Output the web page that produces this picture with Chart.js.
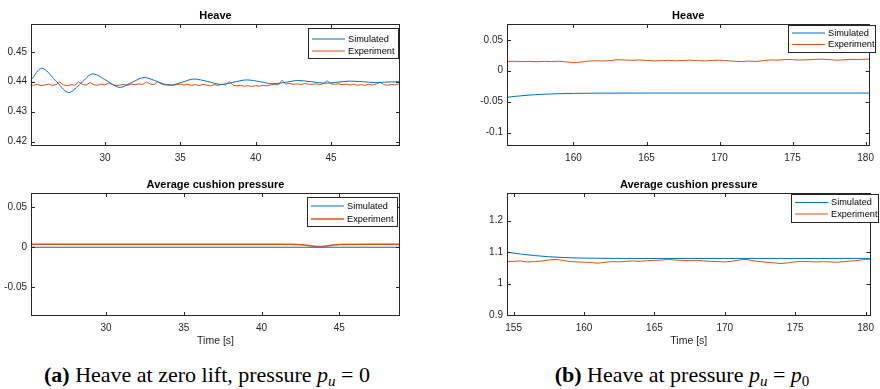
<!DOCTYPE html>
<html>
<head>
<meta charset="utf-8">
<script src="https://cdn.jsdelivr.net/npm/chart.js@4.4.1/dist/chart.umd.min.js"></script>
<style>
  body { margin: 0; background: #fff; }
  #wrap { position: relative; width: 880px; height: 389px; overflow: hidden; }
  canvas { position: absolute; }
  .cap {
    position: absolute; top: 364px; width: 400px; text-align: center;
    font-family: "Liberation Serif", "Times New Roman", serif; font-size: 22px;
    line-height: 22px; color: #000; white-space: nowrap;
  }
  .cap sub { font-size: 15px; vertical-align: -4px; line-height: 0; }
</style>
</head>
<body>
<div id="wrap">
  <canvas id="heaveA" width="440" height="170" style="left:0;top:0"></canvas>
  <canvas id="heaveB" width="440" height="170" style="left:440px;top:0"></canvas>
  <canvas id="pressA" width="440" height="190" style="left:0;top:170px"></canvas>
  <canvas id="pressB" width="440" height="190" style="left:440px;top:170px"></canvas>
  <div class="cap" style="left:7px"><b>(a)</b> Heave at zero lift, pressure <i>p</i><sub><i>u</i></sub> = 0</div>
  <div class="cap" style="left:482px"><b>(b)</b> Heave at pressure <i>p</i><sub><i>u</i></sub> = <i>p</i><sub>0</sub></div>
</div>
<script>
// (a) heave, zero lift
const simTimeA = [25.1, 25.8, 26.7, 27.6, 28.4, 29.2, 30.1, 31.0, 31.8, 32.6, 33.5, 34.3, 35.1, 35.9, 36.8,
  37.7, 38.5, 39.4, 40.3, 41.1, 42.0, 42.8, 43.7, 44.6, 45.4, 46.2, 47.1, 48.0, 48.8, 49.6];
const simHeaveA = [0.4406, 0.4445, 0.4405, 0.4364, 0.4395, 0.4426, 0.4404, 0.4381, 0.4398, 0.4414, 0.4400, 0.4388,
  0.4398, 0.4409, 0.4401, 0.4391, 0.4398, 0.4406, 0.4400, 0.4393, 0.4398, 0.4404, 0.4400, 0.4395, 0.4398,
  0.4402, 0.4400, 0.4397, 0.4399, 0.4400];

const expTimeA = [25.00, 25.25, 25.50, 25.75, 26.00, 26.25, 26.50, 26.75, 27.00, 27.25, 27.50, 27.75,
  28.00, 28.25, 28.50, 28.75, 29.00, 29.25, 29.50, 29.75, 30.00, 30.25, 30.50, 30.75, 31.00, 31.25, 31.50, 31.75,
  32.00, 32.25, 32.50, 32.75, 33.00, 33.25, 33.50, 33.75, 34.00, 34.25, 34.50, 34.75, 35.00, 35.25, 35.50, 35.75,
  36.00, 36.25, 36.50, 36.75, 37.00, 37.25, 37.50, 37.75, 38.00, 38.25, 38.50, 38.75, 39.00, 39.25, 39.50, 39.75,
  40.00, 40.25, 40.50, 40.75, 41.00, 41.25, 41.50, 41.75, 42.00, 42.25, 42.50, 42.75, 43.00, 43.25, 43.50, 43.75,
  44.00, 44.25, 44.50, 44.75, 45.00, 45.25, 45.50, 45.75, 46.00, 46.25, 46.50, 46.75, 47.00, 47.25, 47.50, 47.75,
  48.00, 48.25, 48.50, 48.75, 49.00, 49.25, 49.50, 49.75];
const expHeaveA = [0.4390, 0.4388, 0.4391, 0.4387, 0.4389, 0.4392, 0.4388, 0.4390, 0.4399, 0.4389, 0.4387, 0.4390,
  0.4388, 0.4400, 0.4391, 0.4389, 0.4397, 0.4390, 0.4388, 0.4392, 0.4389, 0.4396, 0.4390, 0.4387, 0.4389, 0.4391,
  0.4388, 0.4392, 0.4390, 0.4393, 0.4391, 0.4399, 0.4392, 0.4390, 0.4400, 0.4392, 0.4389, 0.4391, 0.4388, 0.4390,
  0.4392, 0.4389, 0.4391, 0.4388, 0.4390, 0.4387, 0.4391, 0.4389, 0.4386, 0.4390, 0.4388, 0.4391, 0.4389, 0.4401,
  0.4388, 0.4386, 0.4388, 0.4385, 0.4387, 0.4384, 0.4387, 0.4385, 0.4388, 0.4386, 0.4389, 0.4391, 0.4389, 0.4405,
  0.4392, 0.4394, 0.4391, 0.4393, 0.4390, 0.4394, 0.4392, 0.4391, 0.4393, 0.4390, 0.4394, 0.4403, 0.4393, 0.4391,
  0.4393, 0.4390, 0.4392, 0.4389, 0.4391, 0.4388, 0.4390, 0.4388, 0.4391, 0.4389, 0.4392, 0.4399, 0.4390, 0.4388,
  0.4391, 0.4389, 0.4392, 0.4390];

const pressSimTimeA = [25.0, 49.0];
const pressSimA = [0, 0];
const pressExpTimeA = [25.0, 30.0, 35.0, 40.0, 42.3, 43.0, 43.7, 44.4, 45.0, 49.0];
const pressExpA = [0.0036, 0.0037, 0.0037, 0.0036, 0.0035, 0.0022, 0.0010, 0.0022, 0.0035, 0.0036];

// (b) heave, p_u = p_0
const simTimeB = [155.4, 156, 157, 158, 159, 160, 162, 165, 180.5];
const simHeaveB = [-0.0432, -0.0415, -0.0394, -0.0380, -0.0372, -0.0367, -0.0363, -0.0362, -0.0362];

const expTimeB = [155.5, 156.0, 156.5, 157.0, 157.5, 158.0, 158.5, 159.0, 159.5, 160.0, 160.5, 161.0, 161.5,
  162.0, 162.5, 163.0, 163.5, 164.0, 164.5, 165.0, 165.5, 166.0, 166.5, 167.0, 167.5, 168.0, 168.5, 169.0, 169.5,
  170.0, 170.5, 171.0, 171.5, 172.0, 172.5, 173.0, 173.5, 174.0, 174.5, 175.0, 175.5, 176.0, 176.5, 177.0, 177.5,
  178.0, 178.5, 179.0, 179.5, 180.0, 180.5];
const expHeaveB = [0.0148, 0.0152, 0.0147, 0.0150, 0.0145, 0.0151, 0.0148, 0.0152, 0.0143, 0.0130, 0.0138, 0.0155,
  0.0160, 0.0157, 0.0163, 0.0178, 0.0172, 0.0168, 0.0173, 0.0165, 0.0158, 0.0162, 0.0167, 0.0160, 0.0165, 0.0170,
  0.0163, 0.0158, 0.0166, 0.0170, 0.0161, 0.0152, 0.0148, 0.0155, 0.0150, 0.0162, 0.0175, 0.0170, 0.0182, 0.0178,
  0.0172, 0.0176, 0.0181, 0.0187, 0.0178, 0.0170, 0.0176, 0.0182, 0.0179, 0.0186, 0.0183];

const pressSimTimeB = [154.5, 155.5, 156.5, 157.5, 158.5, 159.5, 161, 163, 170, 180.5];
const pressSimB = [1.100, 1.094, 1.089, 1.0855, 1.083, 1.0815, 1.0805, 1.080, 1.080, 1.080];
const pressExpTimeB = [154.5, 155.0, 155.5, 156.0, 156.5, 157.0, 157.5, 158.0, 158.5, 159.0, 159.5, 160.0,
  160.5, 161.0, 161.5, 162.0, 162.5, 163.0, 163.5, 164.0, 164.5, 165.0, 165.5, 166.0, 166.5, 167.0, 167.5, 168.0,
  168.5, 169.0, 169.5, 170.0, 170.5, 171.0, 171.5, 172.0, 172.5, 173.0, 173.5, 174.0, 174.5, 175.0, 175.5, 176.0,
  176.5, 177.0, 177.5, 178.0, 178.5, 179.0, 179.5, 180.0, 180.5];
const pressExpB = [1.070, 1.071, 1.072, 1.069, 1.070, 1.072, 1.075, 1.077, 1.074, 1.070, 1.069, 1.068, 1.067,
  1.065, 1.068, 1.070, 1.069, 1.071, 1.072, 1.071, 1.073, 1.074, 1.075, 1.077, 1.075, 1.074, 1.073, 1.074, 1.072,
  1.071, 1.070, 1.069, 1.071, 1.075, 1.077, 1.073, 1.070, 1.068, 1.066, 1.064, 1.066, 1.069, 1.071, 1.070, 1.069,
  1.070, 1.069, 1.068, 1.070, 1.072, 1.074, 1.077, 1.078];

// tick values
const timeTicksA = [30, 35, 40, 45];
const timeTicksHeaveB = [160, 165, 170, 175, 180];
const timeTicksPressB = [155, 160, 165, 170, 175, 180];
const heaveTicksA = [0.42, 0.43, 0.44, 0.45];
const pressTicksA = [-0.05, 0, 0.05];
const heaveTicksB = [-0.1, -0.05, 0, 0.05];
const pressTicksB = [0.9, 1, 1.1, 1.2];

const seriesNames = ['Simulated', 'Experiment'];
const BLUE = '#0072BD';
const ORANGE = '#D95319';
const AXIS = '#262626';
const FONT = '"Liberation Sans", Arial, Helvetica, sans-serif';

Chart.defaults.font.family = FONT;
Chart.defaults.color = AXIS;

function toPoints(xs, ys) {
  return xs.map((x, i) => ({ x, y: ys[i] }));
}

// box, inward ticks, title, xlabel and boxed legend like the matlab figure
const matlabAxes = {
  id: 'matlabAxes',
  afterDatasetsDraw(chart, args, opts) {
    const { ctx, chartArea: a, scales } = chart;
    const x = scales.x;
    const y = scales.y;
    ctx.save();
    ctx.strokeStyle = AXIS;
    ctx.lineWidth = 1;
    ctx.beginPath();
    x.ticks.forEach((t) => {
      const px = Math.round(x.getPixelForValue(t.value)) + 0.5;
      ctx.moveTo(px, a.bottom); ctx.lineTo(px, a.bottom - 4);
      ctx.moveTo(px, a.top); ctx.lineTo(px, a.top + 4);
    });
    y.ticks.forEach((t) => {
      const py = Math.round(y.getPixelForValue(t.value)) + 0.5;
      ctx.moveTo(a.left, py); ctx.lineTo(a.left + 4, py);
      ctx.moveTo(a.right, py); ctx.lineTo(a.right - 4, py);
    });
    ctx.stroke();
    ctx.strokeRect(Math.round(a.left) + 0.5, Math.round(a.top) + 0.5,
      Math.round(a.right - a.left) - 1, Math.round(a.bottom - a.top) - 1);

    ctx.fillStyle = '#000';
    ctx.font = 'bold 11px ' + FONT;
    ctx.textAlign = 'center';
    ctx.textBaseline = 'middle';
    ctx.fillText(opts.title, (a.left + a.right) / 2, a.top - 8);

    if (opts.xLabel) {
      ctx.fillStyle = AXIS;
      ctx.font = '10.5px ' + FONT;
      ctx.fillText(opts.xLabel, (a.left + a.right) / 2, a.bottom + 25);
    }

    const lg = opts.legend;
    ctx.fillStyle = '#fff';
    ctx.fillRect(lg.x, lg.y, lg.w, lg.h);
    ctx.strokeStyle = AXIS;
    ctx.strokeRect(lg.x + 0.5, lg.y + 0.5, lg.w, lg.h);
    ctx.font = '9.2px ' + FONT;
    ctx.textAlign = 'left';
    const rows = [lg.r1, lg.r2];
    chart.data.datasets.forEach((ds, i) => {
      const ry = lg.y + rows[i];
      ctx.strokeStyle = ds.borderColor;
      ctx.lineWidth = ds.borderWidth;
      ctx.beginPath();
      ctx.moveTo(lg.x + 4, ry);
      ctx.lineTo(lg.x + 37, ry);
      ctx.stroke();
      ctx.fillStyle = '#000';
      ctx.fillText(ds.label, lg.x + 40, ry);
    });
    ctx.restore();
  },
};

function renderPanel(id, p) {
  const ctx = document.getElementById(id).getContext('2d');
  return new Chart(ctx, {
    type: 'line',
    data: {
      datasets: [
        {
          label: seriesNames[0],
          data: toPoints(p.simT, p.simY),
          borderColor: BLUE,
          borderWidth: 1,
          pointRadius: 0,
          cubicInterpolationMode: 'monotone',
        },
        {
          label: seriesNames[1],
          data: toPoints(p.expT, p.expY),
          borderColor: ORANGE,
          borderWidth: p.expWidth || 1,
          pointRadius: 0,
          tension: p.expSmooth ? 0.4 : 0,
        },
      ],
    },
    options: {
      responsive: false,
      animation: false,
      events: [],
      layout: { padding: { left: 0, top: p.top, right: p.right, bottom: 0 } },
      plugins: {
        legend: { display: false },
        title: { display: false },
        tooltip: { enabled: false },
        matlabAxes: { title: p.title, xLabel: p.xLabel, legend: p.legend },
      },
      scales: {
        x: {
          type: 'linear',
          min: p.xMin,
          max: p.xMax,
          grid: { display: false, drawTicks: false },
          border: { display: false },
          afterBuildTicks: (s) => { s.ticks = p.xTicks.map((v) => ({ value: v })); },
          afterFit: (s) => { s.height = p.xHeight; },
          ticks: { padding: 6, font: { size: 10 }, color: AXIS, maxRotation: 0, callback: (v) => String(v) },
        },
        y: {
          type: 'linear',
          min: p.yMin,
          max: p.yMax,
          grid: { display: false, drawTicks: false },
          border: { display: false },
          afterBuildTicks: (s) => { s.ticks = p.yTicks.map((v) => ({ value: v })); },
          afterFit: (s) => { s.width = p.yWidth; },
          ticks: { padding: 4, font: { size: 10 }, color: AXIS, callback: (v) => String(v) },
        },
      },
    },
    plugins: [matlabAxes],
  });
}

renderPanel('heaveA', {
  simT: simTimeA, simY: simHeaveA, expT: expTimeA, expY: expHeaveA,
  xMin: 25.09, xMax: 49.58, yMin: 0.4185, yMax: 0.4593,
  xTicks: timeTicksA, yTicks: heaveTicksA,
  top: 24, right: 40, yWidth: 31, xHeight: 24,
  title: 'Heave',
  legend: { x: 308, y: 28, w: 90, h: 30, r1: 11, r2: 23 },
});

renderPanel('heaveB', {
  simT: simTimeB, simY: simHeaveB, expT: expTimeB, expY: expHeaveB,
  xMin: 155.45, xMax: 180.27, yMin: -0.1218, yMax: 0.0755,
  xTicks: timeTicksHeaveB, yTicks: heaveTicksB,
  top: 24, right: 3, yWidth: 67, xHeight: 24,
  title: 'Heave',
  legend: { x: 348, y: 25, w: 87, h: 27, r1: 8, r2: 19.5 },
});

renderPanel('pressA', {
  simT: pressSimTimeA, simY: pressSimA, expT: pressExpTimeA, expY: pressExpA,
  expWidth: 1.5, expSmooth: true,
  xMin: 25.18, xMax: 48.9, yMin: -0.0855, yMax: 0.0675,
  xTicks: timeTicksA, yTicks: pressTicksA,
  top: 23, right: 40, yWidth: 31, xHeight: 44,
  title: 'Average cushion pressure', xLabel: 'Time [s]',
  legend: { x: 307, y: 27, w: 90, h: 29, r1: 9, r2: 22 },
});

renderPanel('pressB', {
  simT: pressSimTimeB, simY: pressSimB, expT: pressExpTimeB, expY: pressExpB,
  xMin: 154.53, xMax: 180.35, yMin: 0.898, yMax: 1.287,
  xTicks: timeTicksPressB, yTicks: pressTicksB,
  top: 23, right: 3, yWidth: 67, xHeight: 44,
  title: 'Average cushion pressure', xLabel: 'Time [s]',
  legend: { x: 351, y: 24, w: 87, h: 28, r1: 8.5, r2: 20 },
});
</script>
</body>
</html>
